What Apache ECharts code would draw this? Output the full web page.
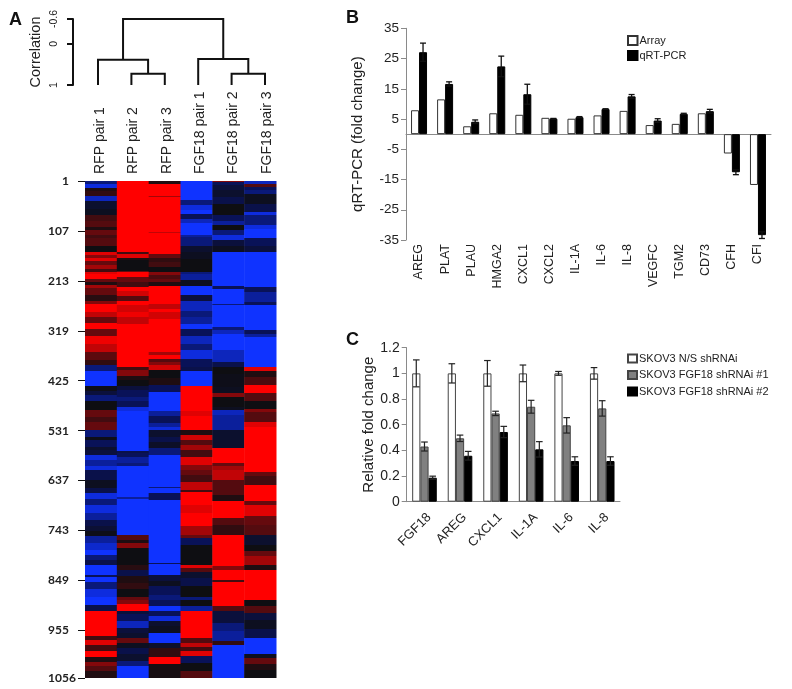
<!DOCTYPE html>
<html>
<head>
<meta charset="utf-8">
<style>html,body{margin:0;padding:0;background:#fff}#c{width:792px;height:689px}</style>
<script src="https://cdn.jsdelivr.net/npm/echarts@6/dist/echarts.min.js"></script>
</head>
<body>
<div id="c"></div>
<script>
// ---- Panel A: heat map bands, per column: [last row of band, log-ratio score -1..1]
const sampleLabels = ['RFP pair 1','RFP pair 2','RFP pair 3','FGF18 pair 1','FGF18 pair 2','FGF18 pair 3'];
const rowTicks = [1,107,213,319,425,531,637,743,849,955,1056];
const bandsRfp1 = [[7,-.6],[15,-.9],[22,.1],[33,.2],[43,-.8],[60,-.2],[74,-.1],[85,.3],[99,.4],[106,.1],[116,.5],[123,.3],[138,.4],[152,0],[159,.9],[164,.6],[171,.9],[180,.5],[187,.7],[194,.3],[199,.9],[208,1],[215,.5],[222,.1],[229,.7],[244,.5],[256,.15],[263,.6],[279,1],[290,.8],[303,.5],[315,1],[329,.5],[346,.95],[364,.8],[382,.45],[392,.2],[405,-.6],[437,-1],[446,-.05],[456,-.3],[467,-.6],[488,0],[502,.5],[513,.3],[530,.5],[544,-.6],[551,-.05],[565,-.5],[572,-.2],[583,-.3],[593,-.9],[607,-.7],[614,-.9],[635,-.4],[653,-.1],[664,-.4],[676,-.9],[688,-.6],[706,-.9],[720,-.7],[734,-.4],[745,-.25],[755,-.05],[770,-.7],[784,-.85],[794,-1],[805,-.6],[816,-.4],[837,-1],[842,-.5],[852,-1],[868,-.6],[883,-.9],[900,-1],[914,-.4],[967,1],[976,.3],[986,.9],[998,.3],[1012,1],[1022,.1],[1031,.6],[1041,.4],[1056,.1]];
const bandsRfp2 = [[152,1],[155,.3],[164,.9],[169,.1],[191,0],[194,.5],[204,1],[215,.5],[226,.3],[234,1],[245,.85],[255,.4],[264,1],[279,.85],[290,.95],[304,.8],[395,1],[402,.3],[415,.6],[423,.1],[437,0],[445,-.3],[459,-.5],[469,-.6],[480,-.5],[490,-.9],[540,-1],[541,-.4],[574,-1],[579,-.4],[586,-.5],[600,-.7],[607,-.6],[671,-1],[676,-.7],[752,-1],[763,.4],[770,.1],[780,.6],[816,0],[826,.15],[840,-.4],[854,.1],[868,.2],[883,0],[890,.5],[899,.6],[913,1],[921,-.3],[935,-.5],[950,-.8],[960,-.3],[971,-.2],[981,.5],[992,-.1],[1006,-.4],[1020,-.2],[1031,-.6],[1056,-1]];
const bandsRfp3 = [[7,.1],[33,1],[36,.7],[109,1],[111,.8],[155,1],[164,.5],[173,.2],[183,.3],[194,0],[201,.6],[208,.35],[215,.5],[224,.1],[262,1],[272,.8],[279,1],[293,.85],[364,1],[371,.7],[378,1],[385,.4],[392,.6],[402,.85],[420,0],[434,.1],[448,-.5],[490,-1],[500,-.7],[515,-.5],[523,-.7],[530,-.9],[544,-.2],[554,-.4],[568,-.15],[583,-.6],[650,-1],[652,-.6],[664,-1],[678,-.5],[812,-1],[814,-.5],[837,-1],[851,-.3],[861,-.1],[879,-.5],[890,-.6],[904,-.5],[914,-1],[925,-.5],[935,-.9],[946,-.2],[960,-.1],[981,-1],[992,-.2],[1012,.2],[1026,1],[1056,.05]];
const bandsFgf1 = [[42,-1],[53,-.6],[63,-.9],[72,-1],[81,-.5],[91,-.8],[116,-1],[120,-.7],[140,-.6],[152,-.2],[166,-.1],[194,0],[199,-.6],[212,-.7],[223,-.1],[244,-1],[256,-.3],[276,-.8],[290,-.6],[304,-.7],[315,-1],[329,-.5],[346,-.8],[360,-.6],[378,-.9],[395,-.5],[405,-.4],[437,-1],[490,1],[500,.9],[530,1],[540,.1],[551,.85],[561,.4],[572,.7],[586,.3],[604,.9],[614,.6],[625,.5],[639,.3],[657,.8],[662,.3],[688,1],[706,.9],[734,1],[752,.7],[759,.5],[773,-.5],[816,0],[823,.9],[830,.4],[844,-.2],[861,-.4],[883,0],[890,-.6],[904,0],[913,-.7],[971,1],[981,.4],[991,.8],[999,.3],[1010,.9],[1024,-.5],[1041,0],[1056,.4]];
const bandsFgf2 = [[3,.6],[10,-.5],[21,-.3],[35,-.2],[49,-.4],[74,0],[85,-.5],[95,-.7],[104,0],[116,-.6],[127,-.9],[138,-.3],[152,-.1],[223,-1],[230,-.5],[262,-1],[265,-.6],[311,-1],[317,-.6],[325,-.8],[360,-1],[385,-.8],[395,-.4],[410,0],[438,-.05],[452,-.1],[459,.6],[480,0],[487,-.1],[498,-.8],[530,-.7],[568,-.2],[600,1],[607,.5],[614,.7],[635,.8],[667,.4],[680,.1],[717,1],[731,.4],[752,.2],[819,1],[826,.6],[847,1],[852,.3],[904,1],[914,.4],[939,-.3],[957,-.6],[978,-.7],[985,.2],[1056,-1]];
const bandsFgf3 = [[7,-.8],[14,.4],[21,-.5],[28,-.6],[49,-.1],[67,-.4],[74,-.9],[95,-.6],[102,-.9],[123,-1],[138,-.5],[152,-.3],[226,-1],[236,-.5],[258,-.7],[265,-.5],[318,-1],[325,-.5],[332,-.7],[395,-1],[405,.9],[417,.1],[434,.35],[452,1],[467,.4],[484,0],[491,.6],[512,.4],[523,.9],[618,1],[628,.5],[646,.3],[681,1],[688,.5],[713,.9],[731,.5],[752,.4],[773,-.2],[786,0],[798,.5],[816,.7],[826,.1],[890,1],[904,0],[918,.4],[932,-.3],[953,-.1],[971,-.4],[1006,-1],[1013,-.1],[1027,.5],[1038,.1],[1056,0]];
const heatColumns = [bandsRfp1,bandsRfp2,bandsRfp3,bandsFgf1,bandsFgf2,bandsFgf3];

// Dendrogram: [left leaf position, right leaf position, merge correlation, left child height, right child height]
const dendroMerges = [
  [1,2,0.73,1,1],
  [4,5,0.73,1,1],
  [0,1.5,0.39,1,0.73],
  [3,4.5,0.37,1,0.73],
  [0.75,3.75,-0.6,0.39,0.37]
];
const correlationTicks = [-0.6,0,1];

// ---- Panel B
const genesB = ['AREG','PLAT','PLAU','HMGA2','CXCL1','CXCL2','IL-1A','IL-6','IL-8','VEGFC','TGM2','CD73','CFH','CFI'];
const arrayValues = [7.9,11.5,2.6,6.9,6.4,5.4,5.1,6.2,7.7,3.0,3.4,6.9,-6.4,-16.8];
const qpcrValues = [27.1,16.6,4.1,22.4,13.2,5.1,5.6,8.3,12.5,4.5,6.7,7.6,-12.6,-33.4];
const qpcrErrors = [3.0,0.7,0.6,3.4,3.3,0.1,0.2,0.1,0.6,0.6,0.2,0.6,0.8,1.1];
const ticksB = [-35,-25,-15,-5,5,15,25,35];

// ---- Panel C
const genesC = ['FGF18','AREG','CXCL1','IL-1A','IL-6','IL-8'];
const nsValues = [1,1,1,1,1,1];
const nsErrors = [0.105,0.075,0.1,0.065,0.015,0.045];
const sh1Values = [0.43,0.494,0.688,0.74,0.595,0.727];
const sh1Errors = [0.035,0.025,0.017,0.05,0.06,0.06];
const sh2Values = [0.187,0.358,0.543,0.408,0.317,0.317];
const sh2Errors = [0.012,0.034,0.044,0.06,0.033,0.033];

const FF = '"Liberation Sans", Arial, sans-serif';
const TXT = '#222';
const AXC = '#8a8a8a';

const heatData = [];
heatColumns.forEach((bands, c) => {
  let start = 1;
  bands.forEach(b => { heatData.push([c, start, b[0], b[1]]); start = b[0]; });
});

function heatItem(params, api) {
  const a = api.coord([api.value(0), api.value(1)]);
  const b = api.coord([api.value(0), api.value(2)]);
  const w = api.size([1, 0])[0];
  const y0 = Math.round(a[1]), y1 = Math.round(b[1]);
  return { type:'rect', shape:{x:a[0]-w/2, y:y0, width:w+0.5, height:Math.max(y1-y0,1)}, style:{fill:api.visual('color')} };
}
function dendroItem(params, api) {
  const L = api.value(0), R = api.value(1), H = api.value(2), LH = api.value(3), RH = api.value(4);
  const p = [[L,LH],[L,H],[R,H],[R,RH]].map(q => api.coord(q));
  return { type:'polyline', shape:{points:p}, style:{fill:'none', stroke:'#111', lineWidth:2} };
}
function errItem(barOffset, capHalf, color, lw) {
  return function (params, api) {
    const i = api.value(0), v = api.value(1), e = api.value(2);
    const top = api.coord([i, v + e]);
    const bot = api.coord([i, v - e]);
    const x = top[0] + barOffset;
    const st = {stroke:color, lineWidth:lw};
    return { type:'group', children:[
      {type:'line', shape:{x1:x,y1:top[1],x2:x,y2:bot[1]}, style:st},
      {type:'line', shape:{x1:x-capHalf,y1:top[1],x2:x+capHalf,y2:top[1]}, style:st},
      {type:'line', shape:{x1:x-capHalf,y1:bot[1],x2:x+capHalf,y2:bot[1]}, style:st}
    ]};
  };
}
const errData = (vals, errs) => vals.map((v,i) => [i, v, errs[i]]);
const letter = (t,l,tp) => ({text:t,left:l,top:tp,padding:0,textStyle:{fontFamily:FF,fontWeight:'bold',fontSize:18,color:'#111'}});

const option = {
  animation:false,
  backgroundColor:'#fff',
  textStyle:{fontFamily:FF},
  title:[letter('A',9,11),letter('B',346,9),letter('C',346,331)],
  visualMap:{show:false,type:'continuous',min:-1,max:1,dimension:3,seriesIndex:0,
    inRange:{color:['#0f33ff','#091258','#0e0e12','#650a0e','#ff0000']}},
  legend:[
    {data:['Array','qRT-PCR'],left:627,top:35,orient:'vertical',itemWidth:9.5,itemHeight:9,itemGap:4,icon:'rect',padding:0,selectedMode:false,
     textStyle:{fontFamily:FF,fontSize:11,color:TXT,padding:[0,0,0,-3]}},
    {data:['SKOV3 N/S shRNAi','SKOV3 FGF18 shRNAi #1','SKOV3 FGF18 shRNAi #2'],left:627,top:353,orient:'vertical',itemWidth:9,itemHeight:8,itemGap:5.5,icon:'rect',padding:0,selectedMode:false,
     textStyle:{fontFamily:FF,fontSize:11,color:TXT,padding:[0,0,0,-3]}}
  ],
  grid:[
    {left:85,top:181,width:191,height:497},
    {left:81.3,top:19,width:200.4,height:66},
    {left:83.3,top:176,width:200.4,height:2},
    {left:406,top:28.3,width:365,height:211.7},
    {left:406.7,top:347.7,width:213.3,height:154}
  ],
  xAxis:[
    {gridIndex:0,type:'category',data:sampleLabels,show:false},
    {gridIndex:1,type:'value',min:-0.5,max:5.5,show:false},
    {gridIndex:2,type:'category',data:sampleLabels,position:'top',axisLine:{show:false},axisTick:{show:false},
     axisLabel:{rotate:90,interval:0,margin:2,fontFamily:FF,fontSize:14,color:TXT}},
    {gridIndex:3,type:'category',data:genesB,position:'bottom',axisLine:{show:false,onZero:false},axisTick:{show:false},
     axisLabel:{rotate:90,interval:0,margin:4,fontFamily:FF,fontSize:12.5,color:TXT}},
    {gridIndex:3,type:'category',data:genesB,position:'bottom',axisLine:{onZero:true,lineStyle:{color:AXC,width:1}},
     axisTick:{length:4,lineStyle:{color:AXC},alignWithLabel:false},axisLabel:{show:false}},
    {gridIndex:4,type:'category',data:genesC,axisLine:{lineStyle:{color:AXC,width:1}},axisTick:{length:4,lineStyle:{color:AXC}},
     axisLabel:{rotate:45,interval:0,margin:9,verticalAlign:'top',fontFamily:FF,fontSize:13,color:TXT}}
  ],
  yAxis:[
    {gridIndex:0,type:'value',min:1,max:1056,inverse:true,splitLine:{show:false},axisLine:{show:false},
     axisTick:{show:true,length:7,lineStyle:{color:'#111'},customValues:rowTicks},
     axisLabel:{customValues:rowTicks,fontFamily:'Lato, sans-serif',fontWeight:'bold',fontSize:12,color:'#222',margin:37,align:'left',
       formatter:v => v===1 ? '{one|1}' : String(v),
       rich:{one:{padding:[0,0,0,14],fontFamily:'Lato, sans-serif',fontWeight:'bold',fontSize:12,color:'#222'}}}},
    {gridIndex:1,type:'value',min:-0.6,max:1,inverse:true,splitLine:{show:false},offset:8.3,
     name:'Correlation',nameLocation:'middle',nameGap:30,nameTextStyle:{fontFamily:FF,fontSize:14.5,color:TXT},
     axisLine:{show:true,onZero:false,lineStyle:{color:'#111',width:2}},
     axisTick:{show:true,length:6,lineStyle:{color:'#111',width:2},customValues:correlationTicks},
     axisLabel:{customValues:correlationTicks,rotate:90,margin:13,fontFamily:FF,fontSize:10.5,color:TXT}},
    {gridIndex:2,type:'value',show:false},
    {gridIndex:3,type:'value',min:-35,max:35,splitLine:{show:false},
     name:'qRT-PCR (fold change)',nameLocation:'middle',nameGap:41,nameTextStyle:{fontFamily:FF,fontSize:15,color:TXT},
     axisLine:{show:true,onZero:false,lineStyle:{color:AXC,width:1}},
     axisTick:{show:true,length:5,lineStyle:{color:AXC},customValues:ticksB},
     axisLabel:{customValues:ticksB,margin:7,fontFamily:FF,fontSize:13.5,color:TXT}},
    {gridIndex:4,type:'value',min:0,max:1.2,interval:0.2,splitLine:{show:false},
     name:'Relative fold change',nameLocation:'middle',nameGap:27,nameTextStyle:{fontFamily:FF,fontSize:15,color:TXT},
     axisLine:{show:true,lineStyle:{color:AXC,width:1}},
     axisTick:{show:true,length:5,lineStyle:{color:AXC}},
     axisLabel:{margin:7,fontFamily:FF,fontSize:14,color:TXT,formatter:v => String(+v.toFixed(1))}}
  ],
  series:[
    {type:'custom',xAxisIndex:0,yAxisIndex:0,renderItem:heatItem,data:heatData,encode:{x:0,y:[1,2]},silent:true},
    {type:'custom',xAxisIndex:1,yAxisIndex:1,renderItem:dendroItem,data:dendroMerges,encode:{x:[0,1],y:[2,3,4]},silent:true},

    {name:'Array',type:'bar',xAxisIndex:4,yAxisIndex:3,data:arrayValues,barWidth:8,barGap:'0%',
     itemStyle:{color:'#fff',borderColor:'#333',borderWidth:1}},
    {name:'qRT-PCR',type:'bar',xAxisIndex:4,yAxisIndex:3,data:qpcrValues,barWidth:8,barGap:'0%',
     itemStyle:{color:'#000',borderColor:'#000',borderWidth:1}},
    {type:'custom',xAxisIndex:4,yAxisIndex:3,renderItem:errItem(4,3,'#111',1.3),data:errData(qpcrValues,qpcrErrors),encode:{x:0,y:1},z:5,silent:true},

    {name:'SKOV3 N/S shRNAi',type:'bar',xAxisIndex:5,yAxisIndex:4,data:nsValues,barWidth:8.2,barGap:'0%',
     itemStyle:{color:'#fff',borderColor:'#444',borderWidth:1}},
    {name:'SKOV3 FGF18 shRNAi #1',type:'bar',xAxisIndex:5,yAxisIndex:4,data:sh1Values,barWidth:8.2,barGap:'0%',
     itemStyle:{color:'#808080',borderColor:'#444',borderWidth:1}},
    {name:'SKOV3 FGF18 shRNAi #2',type:'bar',xAxisIndex:5,yAxisIndex:4,data:sh2Values,barWidth:8.2,barGap:'0%',
     itemStyle:{color:'#000',borderColor:'#000',borderWidth:1}},
    {type:'custom',xAxisIndex:5,yAxisIndex:4,renderItem:errItem(-8.2,3.3,'#222',1.2),data:errData(nsValues,nsErrors),encode:{x:0,y:1},z:5,silent:true},
    {type:'custom',xAxisIndex:5,yAxisIndex:4,renderItem:errItem(0,3.3,'#222',1.2),data:errData(sh1Values,sh1Errors),encode:{x:0,y:1},z:5,silent:true},
    {type:'custom',xAxisIndex:5,yAxisIndex:4,renderItem:errItem(8.2,3.3,'#222',1.2),data:errData(sh2Values,sh2Errors),encode:{x:0,y:1},z:5,silent:true}
  ]
};
echarts.init(document.getElementById('c'),null,{renderer:'canvas'}).setOption(option);
</script>
</body>
</html>
